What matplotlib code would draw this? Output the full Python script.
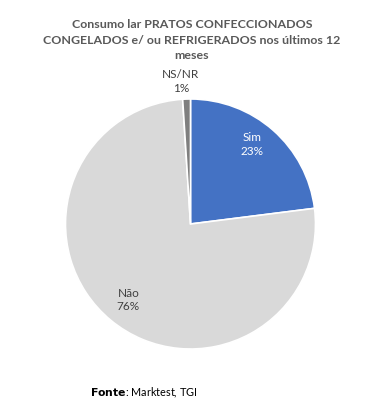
import matplotlib
matplotlib.use("Agg")
import matplotlib.pyplot as plt
import numpy as np

labels = ["Sim", "Não", "NS/NR"]
values = [23, 76, 1]
colors = ["#4472C4", "#D9D9D9", "#7F7F7F"]
title = "Consumo lar PRATOS CONFECCIONADOS\nCONGELADOS e/ ou REFRIGERADOS nos últimos 12\nmeses"

plt.rcParams['font.family'] = ['Lato', 'DejaVu Sans']
fig = plt.figure(figsize=(3.84, 4.10), dpi=100)
fig.patch.set_facecolor("white")

W, H = 384, 410
cx, cy, r = 190.5, 225, 125
ax = fig.add_axes([(cx - r) / W, 1 - (cy + r) / H, 2 * r / W, 2 * r / H])
wedges, _ = ax.pie(values, colors=colors, startangle=90, counterclock=False,
                   wedgeprops=dict(edgecolor="white", linewidth=1.2))
ax.set_xlim(-1, 1); ax.set_ylim(-1, 1)
ax.set_aspect("equal")

def label_pos(i, rad, dang=0):
    start = 90 - sum(values[:i]) / sum(values) * 360
    mid = start - values[i] / sum(values) * 180 + dang
    a = np.deg2rad(mid)
    return rad * np.cos(a), rad * np.sin(a)

x, y = label_pos(0, 0.81, 4)
ax.text(x, y, f"{labels[0]}\n{values[0]}%", ha="center", va="center",
        color="white", fontsize=8.5, linespacing=1.3)
x, y = label_pos(1, 0.78)
ax.text(x, y, f"{labels[1]}\n{values[1]}%", ha="center", va="center",
        color="#404040", fontsize=8.5, linespacing=1.3)
x, y = label_pos(2, 1.15, 2)
ax.text(x, y, f"{labels[2]}\n{values[2]}%", ha="center", va="center",
        color="#404040", fontsize=8.5, linespacing=1.3)

fig.text(0.5, 1 - 40 / H, title, ha="center", va="center", fontsize=8.9,
         fontweight="bold", color="#595959", linespacing=1.5)

fig.text(90 / W, 1 - 393 / H, r"$\bf{Fonte}$: Marktest, TGI", ha="left", va="center",
         fontsize=7.8, color="black")

fig.savefig("out.png", dpi=100, facecolor="white")
